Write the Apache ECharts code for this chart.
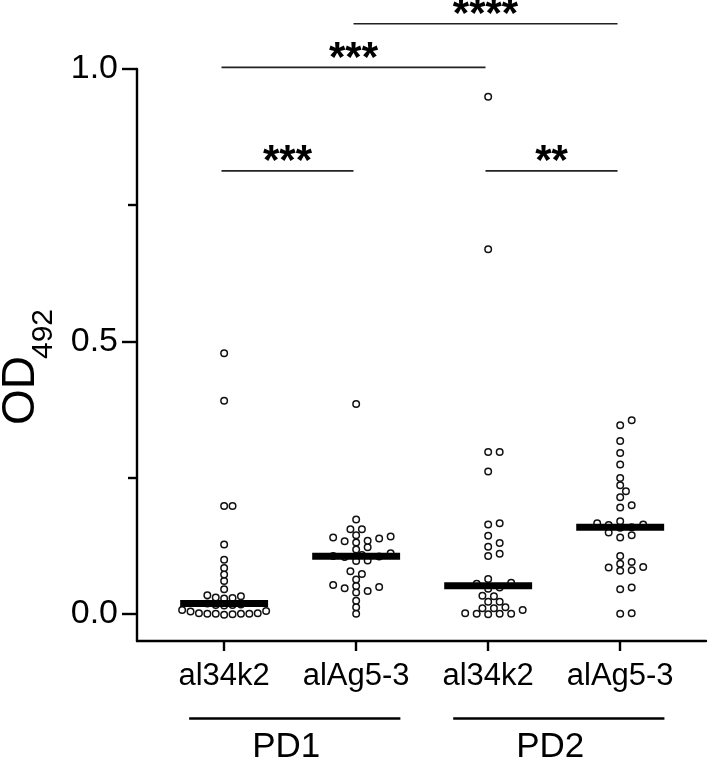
<!DOCTYPE html>
<html><head><meta charset="utf-8">
<script src="https://cdn.jsdelivr.net/npm/echarts@6/dist/echarts.min.js"></script>
<style>html,body{margin:0;padding:0;background:#fff}#main{width:708px;height:759px}</style>
</head><body><div id="main"></div>
<script>
// ---------- data ----------
const categories = ['al34k2', 'alAg5-3', 'al34k2', 'alAg5-3'];
const panelNames = ['PD1', 'PD2'];
const panelOfCategory = [0, 0, 1, 1];

const pd1_al34k2 = [0.478, 0.391, 0.198, 0.198, 0.127, 0.099, 0.084, 0.072, 0.060, 0.045,
  0.034, 0.032, 0.030, 0.029, 0.028,
  0.019, 0.017, 0.016, 0.016, 0.015,
  0.007, 0.005, 0.004,
  0.001, 0.000, 0.000, -0.001, 0.000, 0.001, 0.000, -0.002];
const pd1_alAg53 = [0.385, 0.173, 0.155, 0.155, 0.144, 0.142, 0.140, 0.138, 0.134, 0.133,
  0.131, 0.122, 0.118, 0.111, 0.108, 0.106, 0.105, 0.104, 0.098, 0.097,
  0.078, 0.073, 0.063, 0.053, 0.051, 0.049, 0.047, 0.042, 0.039, 0.024, 0.012, 0.000];
const pd2_al34k2 = [0.949, 0.669, 0.297, 0.297, 0.261, 0.166, 0.164, 0.143, 0.130, 0.123,
  0.110, 0.106, 0.064, 0.057, 0.055, 0.048, 0.046, 0.033, 0.032, 0.022,
  0.022, 0.012, 0.010, 0.010, 0.007, 0.001, 0.000, 0.000, 0.000, -0.001];
const pd2_alAg53 = [0.355, 0.346, 0.317, 0.295, 0.274, 0.249, 0.236, 0.225, 0.214, 0.199,
  0.195, 0.170, 0.166, 0.164, 0.163, 0.159, 0.158, 0.149, 0.144, 0.140,
  0.106, 0.095, 0.092, 0.086, 0.085, 0.080, 0.079, 0.048, 0.045, 0.001, 0.000];
const groupValues = [pd1_al34k2, pd1_alAg53, pd2_al34k2, pd2_alAg53];

const comparisonA = [0, 2, 0, 1];
const comparisonB = [1, 3, 2, 3];
const comparisonLabels = ['***', '**', '***', '****'];

const yTickLabels = [0, 0.5, 1.0];
const yMinorTicks = [0.25, 0.75];

// ---------- layout / style ----------
const Y_MIN = -0.05, Y_MAX = 1.0;
const X_MIN = 0.34, X_MAX = 4.65;
const bracketLevels = [0.813, 0.813, 1.003, 1.083];
const BRACKET_SHIFT = -0.02;
const MEDIAN_HALF = 0.333;
const SWARM_STEP = 11.5;  // px
const SWARM_VH = 6.2;     // px
const SWARM_MAX = 42;     // px half width
const FONT = '"Liberation Sans", Arial, sans-serif';
const AXIS_W = 2.4;

const chart = echarts.init(document.getElementById('main'));

const baseOption = {
  animation: false,
  textStyle: { fontFamily: FONT, color: '#000' },
  grid: { left: 137, right: 2, top: 69, bottom: 118, containLabel: false },
  xAxis: {
    type: 'value', min: X_MIN, max: X_MAX,
    axisLine: { show: true, onZero: false, lineStyle: { color: '#000', width: AXIS_W } },
    axisTick: { show: true, customValues: [1, 2, 3, 4], length: 10, lineStyle: { color: '#000', width: AXIS_W } },
    axisLabel: { customValues: [1, 2, 3, 4], formatter: v => categories[Math.round(v) - 1],
      fontSize: 31, color: '#000', fontFamily: FONT, margin: 20 },
    splitLine: { show: false }
  },
  yAxis: [{
    type: 'value', min: Y_MIN, max: Y_MAX,
    axisLine: { show: true, onZero: false, lineStyle: { color: '#000', width: AXIS_W } },
    axisTick: { show: true, customValues: yTickLabels, length: 15, lineStyle: { color: '#000', width: AXIS_W } },
    axisLabel: { customValues: yTickLabels, formatter: v => v.toFixed(1), fontSize: 34, color: '#000', fontFamily: FONT, margin: 19 },
    splitLine: { show: false }
  }, {
    type: 'value', min: Y_MIN, max: Y_MAX, position: 'left',
    axisLine: { show: false, onZero: false },
    axisTick: { show: true, customValues: yMinorTicks, length: 9, lineStyle: { color: '#000', width: AXIS_W } },
    axisLabel: { show: false },
    splitLine: { show: false }
  }],
  graphic: [{
    type: 'group', x: 35, y: 425, rotation: Math.PI / 2,
    children: [
      { type: 'text', x: 0, y: -14, style: { text: 'OD', fontSize: 46, fontFamily: FONT, fill: '#000', align: 'left', verticalAlign: 'middle' } },
      { type: 'text', x: 66, y: 9, style: { text: '492', fontSize: 30, fontFamily: FONT, fill: '#000', align: 'left', verticalAlign: 'middle' } }
    ]
  }],
  series: [{ id: 'dummy', type: 'scatter', data: [] }]
};
chart.setOption(baseOption);

const pxY = chart.convertToPixel({ yAxisIndex: 0 }, 0) - chart.convertToPixel({ yAxisIndex: 0 }, 1);
const pxX = chart.convertToPixel({ xAxisIndex: 0 }, 2) - chart.convertToPixel({ xAxisIndex: 0 }, 1);

function swarm(values, center) {
  const sorted = values.slice().sort((a, b) => a - b);
  const placed = []; // [dxPx, value]
  const cands = [0];
  for (let k = 1; k <= 40; k++) { cands.push(k * SWARM_STEP / 2, -k * SWARM_STEP / 2); }
  sorted.forEach(v => {
    for (const c of cands) {
      let ok = true;
      for (const p of placed) {
        const dx = (c - p[0]) / SWARM_STEP, dy = (v - p[1]) * pxY / SWARM_VH;
        if (dx * dx + dy * dy < 0.999) { ok = false; break; }
      }
      if (ok) { placed.push([c, v]); break; }
    }
  });
  const maxAbs = Math.max(...placed.map(p => Math.abs(p[0])));
  const k = maxAbs > SWARM_MAX ? SWARM_MAX / maxAbs : 1;
  return placed.map(p => [center + p[0] * k / pxX, p[1]]);
}

function median(arr) {
  const s = arr.slice().sort((a, b) => a - b);
  const n = s.length;
  return n % 2 ? s[(n - 1) / 2] : (s[n / 2 - 1] + s[n / 2]) / 2;
}

const scatterSeries = groupValues.map((vals, i) => ({
  type: 'scatter', name: categories[i], data: swarm(vals, i + 1),
  symbol: 'circle', symbolSize: 6.5,
  itemStyle: { color: '#fff', borderColor: '#111', borderWidth: 1.5, opacity: 1 },
  z: 3
}));

const medianData = groupValues.map((vals, i) => [i + 1, median(vals)]);

const bracketData = comparisonA.map((a, i) => [a + 1, comparisonB[i] + 1, bracketLevels[i], i]);

const panelData = panelNames.map((name, p) => {
  const idx = panelOfCategory.map((q, i) => q === p ? i + 1 : null).filter(v => v !== null);
  return [Math.min(...idx), Math.max(...idx), p];
});

chart.setOption({
  series: [
    ...scatterSeries,
    {
      type: 'custom', name: 'median', data: medianData, z: 5, clip: false,
      encode: { x: 0, y: 1 },
      renderItem: (params, api) => {
        const c = api.value(0), m = api.value(1);
        const p1 = api.coord([c - MEDIAN_HALF, m]);
        const p2 = api.coord([c + MEDIAN_HALF, m]);
        return { type: 'rect', shape: { x: p1[0], y: p1[1] - 3.5, width: p2[0] - p1[0], height: 7 }, style: { fill: '#000' } };
      }
    },
    {
      type: 'custom', name: 'brackets', data: bracketData, z: 4, clip: false,
      encode: { x: [0, 1], y: 2 },
      renderItem: (params, api) => {
        const p1 = api.coord([api.value(0) + BRACKET_SHIFT, api.value(2)]);
        const p2 = api.coord([api.value(1) + BRACKET_SHIFT, api.value(2)]);
        const idx = api.value(3);
        return {
          type: 'group', children: [
            { type: 'line', shape: { x1: p1[0], y1: p1[1], x2: p2[0], y2: p2[1] }, style: { stroke: '#222', lineWidth: 1.6 } },
            { type: 'text', style: { text: comparisonLabels[idx], x: (p1[0] + p2[0]) / 2, y: p1[1] - 8,
              align: 'center', verticalAlign: 'middle', fontSize: 42, fontWeight: 'bold', fontFamily: FONT, fill: '#000' } }
          ]
        };
      }
    },
    {
      type: 'custom', name: 'panels', data: panelData, z: 4, clip: false,
      encode: { x: [0, 1] },
      renderItem: (params, api) => {
        const a = api.value(0), b = api.value(1), p = api.value(2);
        const p1 = api.coord([a - 0.265, Y_MIN]);
        const p2 = api.coord([b + 0.335, Y_MIN]);
        const pc = api.coord([(a + b) / 2 - 0.03, Y_MIN]);
        const ly = p1[1] + 77.5;
        return {
          type: 'group', children: [
            { type: 'line', shape: { x1: p1[0], y1: ly, x2: p2[0], y2: ly }, style: { stroke: '#000', lineWidth: 2.6 } },
            { type: 'text', style: { text: panelNames[p], x: pc[0], y: p1[1] + 106,
              align: 'center', verticalAlign: 'middle', fontSize: 35, fontFamily: FONT, fill: '#000' } }
          ]
        };
      }
    }
  ]
}, { replaceMerge: ['series'] });
</script></body></html>
